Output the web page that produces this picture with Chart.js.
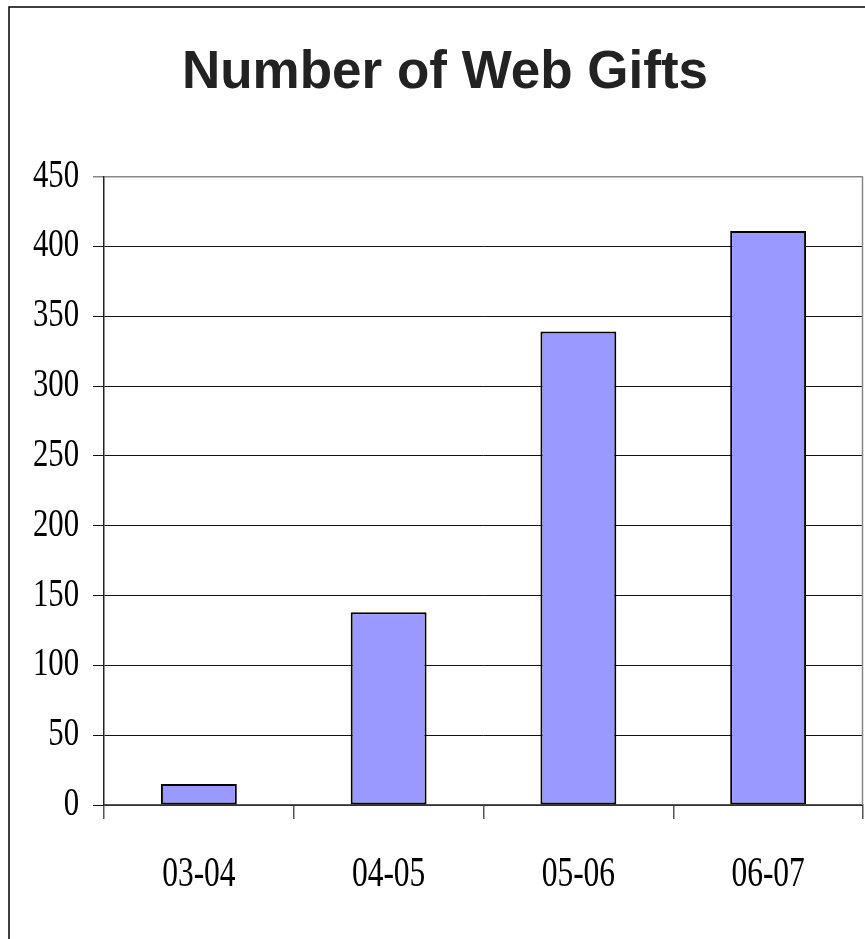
<!DOCTYPE html>
<html>
<head>
<meta charset="utf-8">
<title>Number of Web Gifts</title>
<script src="https://cdn.jsdelivr.net/npm/chart.js@4.4.0/dist/chart.umd.min.js"></script>
<style>
    html, body { margin: 0; padding: 0; background: #fff; }
    #wrap { width: 865px; height: 939px; }
</style>
</head>
<body>
<div id="wrap"><canvas id="giftsChart" width="865" height="939"></canvas></div>
<script>
const years = ['03-04', '04-05', '05-06', '06-07'];
const webGifts = [15, 138, 339, 411];
const yTicks = [0, 50, 100, 150, 200, 250, 300, 350, 400, 450];

const SERIF = '"Liberation Serif", "Times New Roman", serif';
const SQUEEZE = 0.75; // tick labels are drawn narrower than the font

// outer frame, gray plot edge and the narrow serif tick labels
const framePlugin = {
    id: 'frame',
    beforeDraw(chart) {
        const c = chart.ctx;
        c.save();
        c.strokeStyle = '#000';
        c.lineWidth = 1.5;
        c.strokeRect(9, 7, chart.width + 20, chart.height + 20);
        c.restore();
    },
    afterDraw(chart) {
        const c = chart.ctx;
        const area = chart.chartArea;
        c.save();
        c.strokeStyle = '#888';
        c.lineWidth = 1.5;
        c.beginPath();
        c.moveTo(area.right - 0.5, area.top);
        c.lineTo(area.right - 0.5, area.bottom);
        c.stroke();

        c.fillStyle = '#000';
        c.font = '41px ' + SERIF;
        c.textBaseline = 'alphabetic';

        const y = chart.scales.y;
        c.textAlign = 'right';
        yTicks.forEach(v => {
            const py = y.getPixelForValue(v);
            c.save();
            c.translate(y.right - 25, py + 10);
            c.scale(SQUEEZE, 1);
            c.fillText(String(v), 0, 0);
            c.restore();
        });

        const x = chart.scales.x;
        c.textAlign = 'center';
        c.font = '42px ' + SERIF;
        years.forEach((label, i) => {
            const px = x.getPixelForValue(i);
            c.save();
            c.translate(px, x.top + 81);
            c.scale(SQUEEZE, 1);
            c.fillText(label, 0, 0);
            c.restore();
        });
        c.restore();
    }
};

const ctx = document.getElementById('giftsChart').getContext('2d');
const giftsChart = new Chart(ctx, {
    type: 'bar',
    data: {
        labels: years,
        datasets: [{
            label: 'Web Gifts',
            data: webGifts,
            backgroundColor: '#9999ff',
            borderColor: '#000',
            borderWidth: 2,
            borderSkipped: false,
            barPercentage: 0.4,
            categoryPercentage: 1
        }]
    },
    options: {
        responsive: false,
        animation: false,
        layout: { padding: { left: 27, right: 2, top: 0, bottom: 0 } },
        plugins: {
            legend: { display: false },
            tooltip: { enabled: false },
            title: {
                display: true,
                text: 'Number of Web Gifts',
                color: '#222',
                font: { family: '"Liberation Sans", Arial, sans-serif', size: 53, weight: 'bold' },
                padding: { top: 42, bottom: 71 }
            }
        },
        scales: {
            x: {
                offset: true,
                grid: {
                    offset: true,
                    drawOnChartArea: false,
                    drawTicks: true,
                    tickLength: 14,
                    color: '#555',
                    lineWidth: 1.5
                },
                border: { color: '#555', width: 1.5 },
                ticks: { display: false },
                afterFit: s => { s.height = 134; }
            },
            y: {
                min: 0,
                max: 450,
                ticks: { display: false, stepSize: 50 },
                grid: {
                    color: c => (c.tick && c.tick.value === 450 ? '#888' : '#111'),
                    lineWidth: c => (c.tick && c.tick.value === 450 ? 1.5 : 1),
                    tickLength: 11
                },
                border: { color: '#222', width: 1.5 },
                afterFit: s => { s.width = 77; }
            }
        }
    },
    plugins: [framePlugin]
});
</script>
</body>
</html>
